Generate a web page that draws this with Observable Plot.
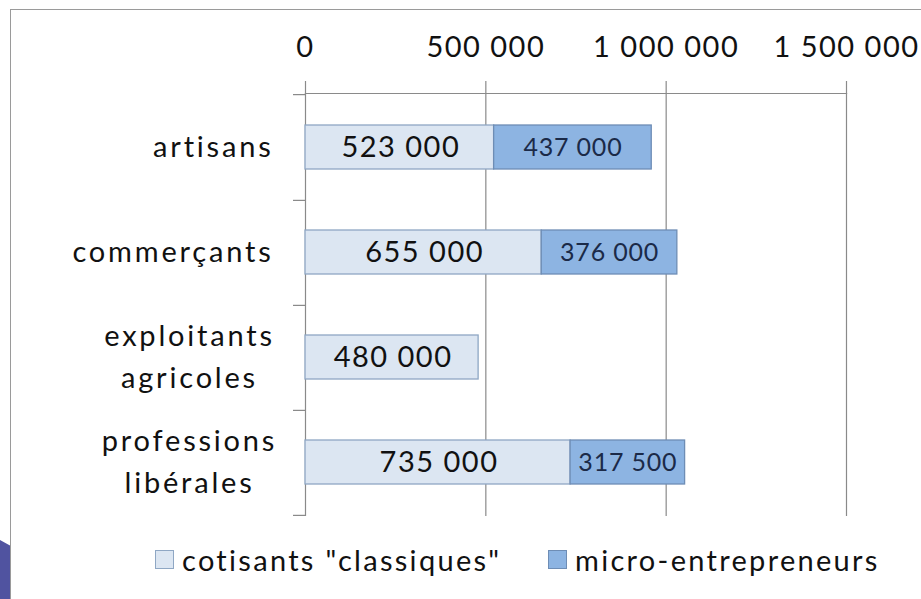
<!DOCTYPE html>
<html>
<head>
<meta charset="utf-8">
<script src="https://cdn.jsdelivr.net/npm/d3@7"></script>
<script src="https://cdn.jsdelivr.net/npm/@observablehq/plot@0.6"></script>
<style>
  html, body { margin: 0; padding: 0; background: #fff; }
  body { width: 921px; height: 599px; position: relative; overflow: hidden; font-family: Lato, "Open Sans", sans-serif; }
  #frame { position: absolute; left: 10px; top: 9px; width: 930px; height: 620px; border: 1px solid #9a9a9a; box-sizing: border-box; pointer-events: none; }
  #corner { position: absolute; left: 0; top: 540px; width: 10px; height: 70px; background: #5053a0; clip-path: polygon(0 0, 100% 8%, 100% 100%, 0 100%); }
  #chart { position: absolute; left: 0; top: 0; }
  #legend { position: absolute; top: 544px; left: 0; width: 921px; height: 30px; font-size: 29px; color: #111; letter-spacing: 2.3px; }
  .item { position: absolute; top: 0; display: flex; align-items: center; height: 30px; white-space: nowrap; }
  .sw { width: 19px; height: 19px; box-sizing: border-box; margin-right: 8px; }
</style>
</head>
<body>
<div id="chart"></div>
<div id="legend"></div>
<div id="frame"></div>
<div id="corner"></div>
<script>
// ---- data ----
const categories = ["artisans", "commerçants", "exploitants\nagricoles", "professions\nlibérales"];
const classiques = [523000, 655000, 480000, 735000];
const micro = [437000, 376000, 0, 317500];
const seriesNames = ['cotisants "classiques"', "micro-entrepreneurs"];
const xTicks = [0, 500000, 1000000, 1500000];

const fills = ["#dce6f2", "#8db4e2"];
const strokes = ["#8fa7c4", "#6e8db5"];

const rows = [];
categories.forEach((c, i) => {
  rows.push({cat: c, series: seriesNames[0], value: classiques[i]});
  rows.push({cat: c, series: seriesNames[1], value: micro[i]});
});

const fmt = v => d3.format(",")(v).replace(/,/g, " ");

const W = 921, H = 530, mT = 93, mB = 14, mL = 305, mR = 75;
const step = (H - mT - mB) / categories.length;

const single = categories.filter(c => !c.includes("\n"));
const multi = categories.filter(c => c.includes("\n"));

const plot = Plot.plot({
  width: W,
  height: H,
  marginTop: mT,
  marginBottom: mB,
  marginLeft: mL,
  marginRight: mR,
  style: {fontFamily: "Lato, 'Open Sans', sans-serif", background: "transparent", overflow: "visible"},
  x: {domain: [0, 1500000], axis: null, label: null},
  y: {domain: categories, paddingInner: 0.58, paddingOuter: 0.29, axis: null, label: null},
  color: {domain: seriesNames, range: fills},
  marks: [
    Plot.gridX(xTicks, {stroke: "#8a8a8a", strokeOpacity: 1, strokeWidth: 1.2}),
    Plot.axisX(xTicks, {anchor: "top", label: null, tickSize: 13, tickPadding: 24, stroke: "#8a8a8a", strokeWidth: 1.2,
      tickFormat: fmt, fontSize: 29, fill: "#111", ariaDescription: "xtick"}),
    Plot.frame({anchor: "top", stroke: "#8a8a8a", strokeWidth: 1.2}),
    // category boundary ticks
    Plot.axisY(categories, {anchor: "left", label: null, tickSize: 12, dy: step / 2, tickFormat: () => "", stroke: "#8a8a8a", strokeWidth: 1.2}),
    Plot.axisY([categories[0]], {anchor: "left", label: null, tickSize: 12, dy: -step / 2, tickFormat: () => "", stroke: "#8a8a8a", strokeWidth: 1.2}),
    // bars
    Plot.barX(rows.filter(d => d.value > 0), Plot.stackX({
      x: "value", y: "cat", fill: "series", order: seriesNames,
      stroke: d => d.series === seriesNames[0] ? strokes[0] : strokes[1], strokeWidth: 1.3
    })),
    Plot.textX(rows, Plot.stackX({
      x: "value", y: "cat", order: seriesNames, z: "series",
      text: d => d.series === seriesNames[0] ? fmt(d.value) : "",
      fontSize: 29, fill: "#111", dx: 1, ariaDescription: "biglabel"
    })),
    Plot.textX(rows, Plot.stackX({
      x: "value", y: "cat", order: seriesNames, z: "series",
      text: d => d.series === seriesNames[1] && d.value > 0 ? fmt(d.value) : "",
      fontSize: 25, fill: "#1b2a48", ariaDescription: "smalllabel"
    })),
    // category labels
    Plot.text(single, {x: 0, y: d => d, text: d => d, textAnchor: "end", dx: -32, fontSize: 29, fill: "#111", ariaDescription: "catlabel"}),
    Plot.text(multi, {x: 0, y: d => d, text: d => d, textAnchor: "middle", dx: -116, dy: -4, fontSize: 29, lineHeight: 1.45, fill: "#111", ariaDescription: "catlabel"})
  ]
});
// letter spacing to mimic the wide original typeface
const spacing = {"xtick": 1.5, "biglabel": 1.5, "smalllabel": 0.8, "catlabel": 2.8};
plot.querySelectorAll("g[aria-description]").forEach(g => {
  const s = spacing[g.getAttribute("aria-description")];
  if (s != null) g.setAttribute("letter-spacing", s + "px");
});
document.getElementById("chart").appendChild(plot);

// legend
const legend = document.getElementById("legend");
const legendX = [155, 548];
seriesNames.forEach((s, i) => {
  const item = document.createElement("div");
  item.className = "item";
  item.style.left = legendX[i] + "px";
  const sw = document.createElement("div");
  sw.className = "sw";
  sw.style.background = fills[i];
  sw.style.border = "1.3px solid " + strokes[i];
  const t = document.createElement("span");
  t.textContent = s;
  item.appendChild(sw);
  item.appendChild(t);
  legend.appendChild(item);
});
</script>
</body>
</html>
